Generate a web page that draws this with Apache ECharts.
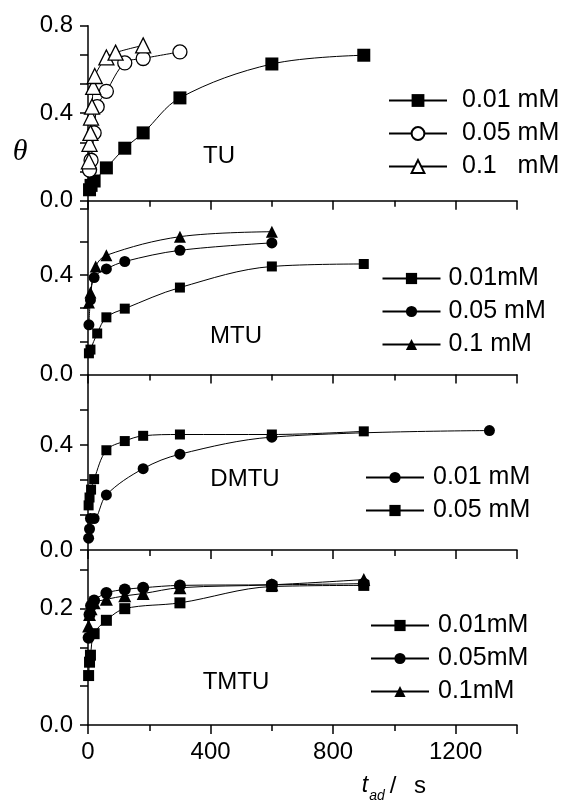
<!DOCTYPE html>
<html><head><meta charset="utf-8">
<script src="https://cdn.jsdelivr.net/npm/echarts@6/dist/echarts.min.js"></script>
<style>html,body{margin:0;padding:0;background:#fff}#c{width:564px;height:800px}</style>
</head><body><div id="c"></div>
<script>
// ---- data (t_ad in s, theta) ----
const xTickLabels = [0, 400, 800, 1200];
const panelNames = ['TU', 'MTU', 'DMTU', 'TMTU'];

// TU
const tuT_001 = [5, 10, 20, 60, 120, 180, 300, 600, 900];
const tuV_001 = [0.05, 0.07, 0.09, 0.15, 0.24, 0.31, 0.47, 0.625, 0.665];
const tuT_005 = [5, 10, 20, 30, 60, 120, 180, 300];
const tuV_005 = [0.14, 0.185, 0.31, 0.43, 0.50, 0.63, 0.65, 0.68];
const tuT_01 = [3, 5, 8, 10, 13, 17, 22, 60, 90, 180];
const tuV_01 = [0.18, 0.26, 0.31, 0.38, 0.43, 0.52, 0.57, 0.655, 0.677, 0.71];
// MTU
const mtuT_001 = [3, 8, 30, 60, 120, 300, 600, 900];
const mtuV_001 = [0.085, 0.10, 0.165, 0.23, 0.265, 0.35, 0.435, 0.445];
const mtuT_005 = [3, 8, 20, 60, 120, 300, 600];
const mtuV_005 = [0.20, 0.30, 0.39, 0.425, 0.455, 0.50, 0.53];
const mtuT_01 = [3, 8, 25, 60, 300, 600];
const mtuV_01 = [0.29, 0.33, 0.435, 0.48, 0.555, 0.575];
// DMTU
const dmtuT_001 = [2, 5, 8, 20, 60, 180, 300, 600, 1310];
const dmtuV_001 = [0.045, 0.08, 0.12, 0.12, 0.21, 0.31, 0.365, 0.43, 0.455];
const dmtuT_005 = [2, 5, 10, 20, 60, 120, 180, 300, 600, 900];
const dmtuV_005 = [0.17, 0.20, 0.23, 0.27, 0.38, 0.415, 0.435, 0.44, 0.44, 0.452];
// TMTU
const tmtuT_001 = [2, 5, 8, 20, 60, 120, 300, 600, 900];
const tmtuV_001 = [0.085, 0.108, 0.12, 0.157, 0.18, 0.20, 0.21, 0.238, 0.24];
const tmtuT_005 = [2, 5, 10, 20, 60, 120, 180, 300, 600, 900];
const tmtuV_005 = [0.15, 0.19, 0.205, 0.214, 0.227, 0.233, 0.236, 0.24, 0.241, 0.243];
const tmtuT_01 = [2, 5, 10, 20, 60, 120, 180, 300, 600, 900];
const tmtuV_01 = [0.17, 0.19, 0.20, 0.21, 0.216, 0.222, 0.226, 0.236, 0.241, 0.25];

const FONT = 'Liberation Sans';
const zip = (a, b) => a.map((v, i) => [v, b[i]]);

const grids = [
  {left: 88, right: 47, top: 25.7, height: 175},
  {left: 88, right: 47, top: 200.7, height: 173.7},
  {left: 88, right: 47, top: 375, height: 175},
  {left: 88, right: 47, top: 550.5, height: 174.5}
];
const yCfg = [
  {max: 0.8, major: 0.4},
  {max: 0.7, major: 0.4},
  {max: 2/3, major: 0.4},
  {max: 0.3, major: 0.2}
];

const xAxes = grids.map((g, i) => ({
  gridIndex: i, type: 'value', min: 0, max: 1400, interval: 400,
  axisLine: {lineStyle: {color: '#000', width: 1.5}},
  axisTick: {length: 9, lineStyle: {color: '#000', width: 1.5}},
  minorTick: {show: true, splitNumber: 2, length: 6, lineStyle: {color: '#000', width: 1.5}},
  splitLine: {show: false},
  axisLabel: {show: i === 3, margin: 15, color: '#000', fontFamily: FONT, fontSize: 24,
    formatter: v => xTickLabels.includes(v) ? String(v) : ''}
}));
const yAxes = yCfg.map((c, i) => ({
  gridIndex: i, type: 'value', min: 0, max: c.max, interval: c.major / 3,
  axisLine: {show: true, lineStyle: {color: '#000', width: 1.5}},
  axisTick: {show: true, length: 8, lineStyle: {color: '#000', width: 1.5}},
  splitLine: {show: false},
  axisLabel: {margin: 15, color: '#000', fontFamily: FONT, fontSize: 24, showMaxLabel: i === 0,
    formatter: v => {
      const r = v / c.major;
      return Math.abs(r - Math.round(r)) < 1e-6 ? v.toFixed(1) : '';
    }}
}));

function mk(panel, label, t, v, symbol, open, size) {
  return {
    name: panelNames[panel] + '|' + label, type: 'line', xAxisIndex: panel, yAxisIndex: panel,
    data: zip(t, v), smooth: 0.35,
    symbol: symbol, symbolSize: symbol === 'triangle' ? size + 1 : size,
    lineStyle: {color: '#000', width: 1},
    itemStyle: {color: open ? '#fff' : '#000', borderColor: '#000', borderWidth: open ? 1.3 : 0, opacity: 1},
    emphasis: {disabled: true}, animation: false
  };
}

const series = [
  mk(0, '0.01 mM', tuT_001, tuV_001, 'rect', false, 13),
  mk(0, '0.05 mM', tuT_005, tuV_005, 'circle', true, 14),
  mk(0, '0.1   mM', tuT_01, tuV_01, 'triangle', true, 14),
  mk(1, '0.01mM', mtuT_001, mtuV_001, 'rect', false, 10),
  mk(1, '0.05 mM', mtuT_005, mtuV_005, 'circle', false, 11),
  mk(1, '0.1 mM', mtuT_01, mtuV_01, 'triangle', false, 11),
  mk(2, '0.01 mM', dmtuT_001, dmtuV_001, 'circle', false, 11),
  mk(2, '0.05 mM', dmtuT_005, dmtuV_005, 'rect', false, 10),
  mk(3, '0.01mM', tmtuT_001, tmtuV_001, 'rect', false, 11),
  mk(3, '0.05mM', tmtuT_005, tmtuV_005, 'circle', false, 12),
  mk(3, '0.1mM', tmtuT_01, tmtuV_01, 'triangle', false, 12)
];

function legend(panel, left, top, itemH, pad) {
  return {
    orient: 'vertical', left: left, top: top, itemWidth: 58, itemHeight: itemH, itemGap: 8,
    selectedMode: false, padding: 0,
    data: series.filter(s => s.xAxisIndex === panel).map(s => s.name),
    formatter: n => n.split('|')[1],
    textStyle: {color: '#000', fontFamily: FONT, fontSize: 25, lineHeight: 24, padding: [0, 0, 0, pad]}
  };
}

const txt = (x, y, s, font) => ({type: 'text', x: x, y: y, silent: true,
  style: {text: s, fill: '#000', font: font, align: 'center', verticalAlign: 'middle'}});
const F = sz => sz + 'px "' + FONT + '"';

const option = {
  backgroundColor: '#fff',
  animation: false,
  grid: grids,
  xAxis: xAxes,
  yAxis: yAxes,
  series: series,
  legend: [
    legend(0, 388, 88, 16, 10),
    legend(1, 381.5, 266, 14, 3),
    legend(2, 365, 465, 14, 4),
    legend(3, 370, 613, 14, 4)
  ],
  graphic: [
    txt(20, 152, 'θ', 'italic 30px "Liberation Serif"'),
    txt(219, 156, 'TU', F(24)),
    txt(236, 336, 'MTU', F(24)),
    txt(245, 479, 'DMTU', F(24)),
    txt(236, 682, 'TMTU', F(24)),
    txt(365, 786, 't', 'italic 23px "' + FONT + '"'),
    txt(377, 796, 'ad', 'italic 14px "' + FONT + '"'),
    txt(393, 786, '/', F(24)),
    txt(420, 786, 's', F(24))
  ]
};
const chart = echarts.init(document.getElementById('c'));
chart.setOption(option);
</script></body></html>
